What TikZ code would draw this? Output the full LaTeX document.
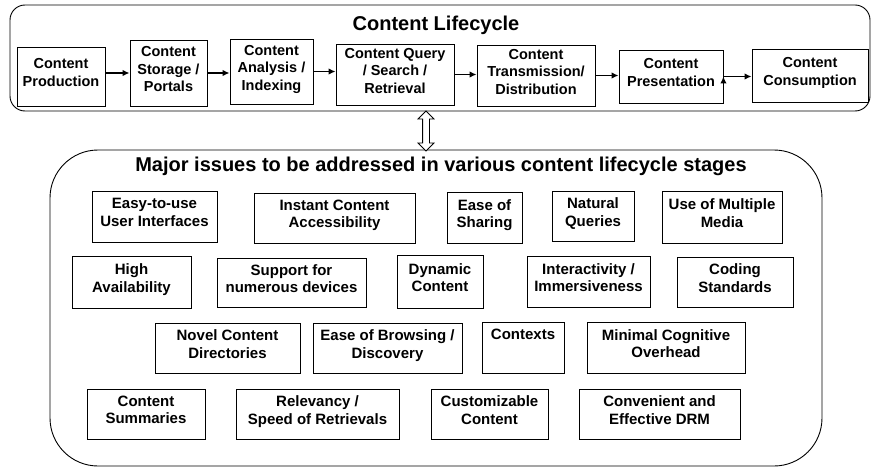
\documentclass[tikz,border=0pt]{standalone}
\usepackage{fontspec}
\setmainfont{Liberation Sans}
\usetikzlibrary{shapes.arrows,arrows.meta}

\begin{document}
\begin{tikzpicture}[x=1pt,y=-1pt,
        frame node/.style={draw,line width=0.9pt,inner sep=0pt},
        title node/.style={font=\fontsize{20}{24}\selectfont\bfseries},
        stage node/.style={draw,line width=0.9pt,align=center,inner sep=2pt,text depth=8pt,
          font=\fontsize{14.5}{17.5}\selectfont\bfseries},
        issue node/.style={stage node,font=\fontsize{15}{17.5}\selectfont\bfseries},
        flow edge/.style={draw,line width=1.3pt,-{Latex[length=7pt,width=6.5pt]}},
        link arrow/.style={draw,double arrow,shape border rotate=90,line width=0.8pt,
          double arrow head extend=4.5pt,inner sep=3pt,minimum height=40pt,fill=white}
      ]
      \useasboundingbox (0,0) rectangle (872,468);

      % the two frames
      \node[frame node,rounded corners=15pt,minimum width=860pt,minimum height=106pt] (lifecycle) at (440,58) {};
      \node[frame node,rounded corners=48pt,minimum width=772pt,minimum height=316pt] (issues) at (436,308) {};
      \node[title node] (lctitle) at (436,25) {Content Lifecycle};
      \node[title node] (istitle) at (441,166) {Major issues to be addressed in various content lifecycle stages};

      % lifecycle stages
      \node[stage node,minimum width=88pt,minimum height=59pt] (p1) at (61,76.5) {Content\\Production};
      \node[stage node,minimum width=77pt,minimum height=66pt] (p2) at (168.5,73) {Content\\Storage /\\Portals};
      \node[stage node,minimum width=83pt,minimum height=65pt] (p3) at (271.5,71.5) {Content\\Analysis /\\Indexing};
      \node[stage node,minimum width=118pt,minimum height=61pt] (p4) at (395,74.5) {Content Query\\/ Search /\\Retrieval};
      \node[stage node,minimum width=118pt,minimum height=61pt] (p5) at (536,75.5) {Content\\Transmission/\\Distribution};
      \node[stage node,minimum width=104pt,minimum height=53pt] (p6) at (671,76.5) {Content\\Presentation};
      \node[stage node,minimum width=116pt,minimum height=53pt] (p7) at (810,75.5) {Content\\Consumption};

      % flow between stages
      \path[flow edge]
        (p1.east |- p2.west) edge (p2.west)
        (p2.east) edge (p2.east -| p3.west)
        (p3.east) edge (p3.east -| p4.west)
        (p4.east) edge (p4.east -| p5.west)
        (p5.east) edge (p5.east -| p6.west)
        (p6.east) edge (p6.east -| p7.west);

      % link between the frames
      \node[link arrow] (link) at (426,131) {};

      % issues, row by row
      \node[issue node,minimum width=125pt,minimum height=51pt] (i1) at (154.5,216.5) {Easy-to-use\\User Interfaces};
      \node[issue node,minimum width=161pt,minimum height=50pt] (i2) at (334.5,218) {Instant Content\\Accessibility};
      \node[issue node,minimum width=75pt,minimum height=51pt] (i3) at (484.5,217.5) {Ease of\\Sharing};
      \node[issue node,minimum width=82pt,minimum height=50pt] (i4) at (593,216) {Natural\\Queries};
      \node[issue node,minimum width=120pt,minimum height=52pt] (i5) at (722,217) {Use of Multiple\\Media};

      \node[issue node,minimum width=119pt,minimum height=52pt] (i6) at (131.5,282) {High\\Availability};
      \node[issue node,minimum width=149pt,minimum height=49pt] (i7) at (291.5,282.5) {Support for\\numerous devices};
      \node[issue node,minimum width=86pt,minimum height=53pt] (i8) at (440,281.5) {Dynamic\\Content};
      \node[issue node,minimum width=123pt,minimum height=51pt] (i9) at (588.5,281.5) {Interactivity /\\Immersiveness};
      \node[issue node,minimum width=116pt,minimum height=50pt] (i10) at (735,282) {Coding\\Standards};

      \node[issue node,minimum width=145pt,minimum height=50pt] (i11) at (227.5,348) {Novel Content\\Directories};
      \node[issue node,minimum width=149pt,minimum height=50pt] (i12) at (387.5,348) {Ease of Browsing /\\Discovery};
      \node[issue node,minimum width=82pt,minimum height=51pt] (i13) at (523,347.5) {Contexts\\~};
      \node[issue node,minimum width=158pt,minimum height=51pt] (i14) at (666,347.5) {Minimal Cognitive\\Overhead};

      \node[issue node,minimum width=118pt,minimum height=50pt] (i15) at (146,414) {Content\\Summaries};
      \node[issue node,minimum width=163pt,minimum height=50pt] (i16) at (317.5,414) {Relevancy /\\Speed of Retrievals};
      \node[issue node,minimum width=117pt,minimum height=50pt] (i17) at (489.5,414) {Customizable\\Content};
      \node[issue node,minimum width=161pt,minimum height=50pt] (i18) at (659.5,414) {Convenient and\\Effective DRM};
    \end{tikzpicture}
\end{document}
